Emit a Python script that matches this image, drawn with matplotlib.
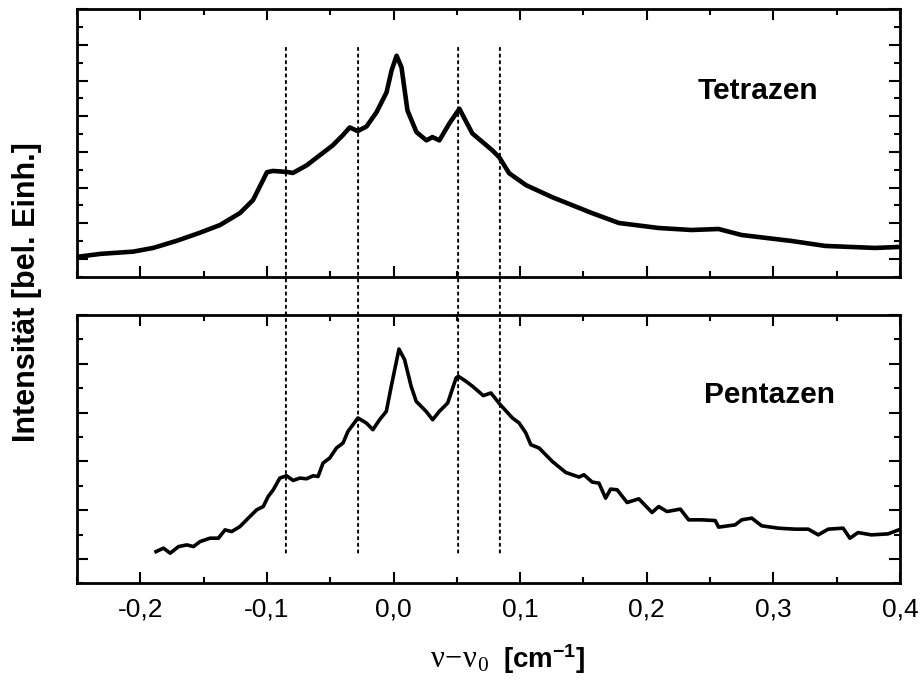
import matplotlib
matplotlib.use("Agg")
import matplotlib.pyplot as plt
from matplotlib.ticker import MultipleLocator, FuncFormatter, NullFormatter
from matplotlib.patches import ConnectionPatch

# ---- data ----
tetra_x = [-0.25, -0.2315, -0.2055, -0.1898, -0.1709, -0.1528, -0.137, -0.1213, -0.111,
           -0.1031, -0.1, -0.0953, -0.0843, -0.0795, -0.0685, -0.0583, -0.048, -0.0402,
           -0.0346, -0.0283, -0.0213, -0.0134, -0.0055, -0.0016, 0.0024, 0.0063, 0.011,
           0.0181, 0.026, 0.0307, 0.0362, 0.0441, 0.052, 0.0622, 0.078, 0.0835, 0.0913,
           0.1047, 0.1252, 0.1567, 0.178, 0.2094, 0.2354, 0.2567, 0.2748, 0.3142, 0.341,
           0.3803, 0.4]
tetra_y = [1.056, 1.14, 1.204, 1.307, 1.511, 1.735, 1.95, 2.285, 2.648,
           3.207, 3.43, 3.466, 3.439, 3.41, 3.626, 3.905, 4.184, 4.464,
           4.687, 4.584, 4.715, 5.115, 5.673, 6.279, 6.698, 6.372, 5.162,
           4.556, 4.324, 4.416, 4.324, 4.799, 5.21, 4.52, 4.045, 3.849, 3.402,
           3.067, 2.732, 2.285, 2.006, 1.866, 1.81, 1.838, 1.67, 1.503, 1.363,
           1.307, 1.335]

penta_x = [-0.1876, -0.1817, -0.1764, -0.1698, -0.1632, -0.158, -0.1528, -0.1449, -0.1383,
           -0.1331, -0.1278, -0.1213, -0.1147, -0.1081, -0.1029, -0.099, -0.095, -0.0898,
           -0.0845, -0.0793, -0.074, -0.0687, -0.0635, -0.0596, -0.0557, -0.0504, -0.0451,
           -0.0399, -0.036, -0.0281, -0.0215, -0.0163, -0.011, -0.0057, -0.0018, 0.0043,
           0.0087, 0.0139, 0.0179, 0.0257, 0.0309, 0.0362, 0.0428, 0.0494, 0.0512, 0.0572,
           0.0624, 0.0709, 0.0769, 0.0843, 0.0939, 0.0992, 0.1045, 0.1084, 0.115, 0.1254,
           0.136, 0.1465, 0.1504, 0.1569, 0.1622, 0.1675, 0.1714, 0.1766, 0.1845, 0.1937,
           0.2042, 0.2094, 0.216, 0.2265, 0.2331, 0.2435, 0.2541, 0.2567, 0.2698, 0.275,
           0.2829, 0.2908, 0.3039, 0.3171, 0.3276, 0.3354, 0.3433, 0.3551, 0.3604, 0.3669,
           0.3774, 0.3906, 0.399]
penta_y = [1.15, 1.22, 1.117, 1.253, 1.287, 1.253, 1.355, 1.425, 1.425,
           1.595, 1.561, 1.663, 1.836, 2.006, 2.074, 2.279, 2.417, 2.657,
           2.704, 2.608, 2.657, 2.643, 2.704, 2.69, 2.965, 3.068, 3.273,
           3.376, 3.614, 3.889, 3.786, 3.649, 3.854, 4.025, 4.538, 5.302,
           5.086, 4.538, 4.23, 4.025, 3.854, 4.025, 4.197, 4.71, 4.743, 4.641,
           4.538, 4.347, 4.402, 4.162, 3.889, 3.786, 3.581, 3.341, 3.273, 2.998,
           2.772, 2.678, 2.725, 2.575, 2.554, 2.246, 2.431, 2.417, 2.156, 2.232,
           1.951, 2.074, 1.971, 2.021, 1.801, 1.801, 1.786, 1.651, 1.698, 1.801,
           1.836, 1.678, 1.63, 1.61, 1.61, 1.493, 1.61, 1.63, 1.425, 1.54,
           1.493, 1.513, 1.595]

marker_x = [-0.085, -0.028, 0.051, 0.084]
marker_top = 6.92      # top-panel units
marker_bottom = 1.08   # bottom-panel units

panel_labels = ["Tetrazen", "Pentazen"]
xlabel_greek = r"$\mathregular{\nu\!-\!\nu_{0}}$"
xlabel_unit = r"[cm$\mathregular{^{-1}}$]"
ylabel = "Intensität [bel. Einh.]"

# ---- figure ----
fig = plt.figure(figsize=(9.21, 6.8), dpi=100)
ax1 = fig.add_axes([77/921, 1-276.7/680, 823/921, 267.4/680])
ax2 = fig.add_axes([77/921, 1-583.3/680, 823/921, 268.3/680])

ax1.plot(tetra_x, tetra_y, color="black", lw=3.3, solid_joinstyle="round")
ax2.plot(penta_x, penta_y, color="black", lw=2.6, solid_joinstyle="round")

ax1.set_ylim(0.5, 8.0)
ax2.set_ylim(0.5, 6.0)

comma = FuncFormatter(lambda v, p: f"{v:.1f}".replace(".", ",").replace("-0,0", "0,0"))
for ax in (ax1, ax2):
    ax.set_xlim(-0.25, 0.4)
    ax.xaxis.set_major_locator(MultipleLocator(0.1))
    ax.xaxis.set_minor_locator(MultipleLocator(0.05))
    ax.yaxis.set_major_locator(MultipleLocator(1.0))
    ax.yaxis.set_minor_locator(MultipleLocator(0.5))
    ax.tick_params(which="both", direction="in", top=True, right=True, width=1.5, colors="black")
    ax.tick_params(which="major", length=8)
    ax.tick_params(which="minor", length=4.3)
    ax.yaxis.set_major_formatter(NullFormatter())
    for s in ax.spines.values():
        s.set_linewidth(2.0)

ax1.xaxis.set_major_formatter(NullFormatter())
ax2.xaxis.set_major_formatter(comma)
ax2.tick_params(axis="x", which="major", pad=10)
for lab in ax2.get_xticklabels():
    lab.set_fontfamily("Liberation Sans")
    lab.set_fontsize(19)

ax1.text(0.288, 5.497, panel_labels[0], ha="center", va="baseline",
         fontsize=21.5, fontweight="bold", family="Liberation Sans")
ax2.text(0.2972, 4.203, panel_labels[1], ha="center", va="baseline",
         fontsize=21.5, fontweight="bold", family="Liberation Sans")

for x in marker_x:
    cp = ConnectionPatch(xyA=(x, marker_top), coordsA=ax1.transData,
                         xyB=(x, marker_bottom), coordsB=ax2.transData,
                         linestyle=(0, (1.2, 2.2)), linewidth=1.4, color="black",
                         shrinkA=0, shrinkB=0)
    fig.add_artist(cp)

fig.text(27/921, 1-292/680, ylabel, rotation=90, ha="center", va="center",
         fontsize=22, fontweight="bold", family="Liberation Sans")

fig.text(489/921, 1-668/680, xlabel_greek, ha="right", va="baseline",
         fontsize=22, family="Liberation Serif")
fig.text(503/921, 1-668/680, xlabel_unit, ha="left", va="baseline",
         fontsize=20, fontweight="bold", family="Liberation Sans")

fig.savefig("out.png", dpi=100)
